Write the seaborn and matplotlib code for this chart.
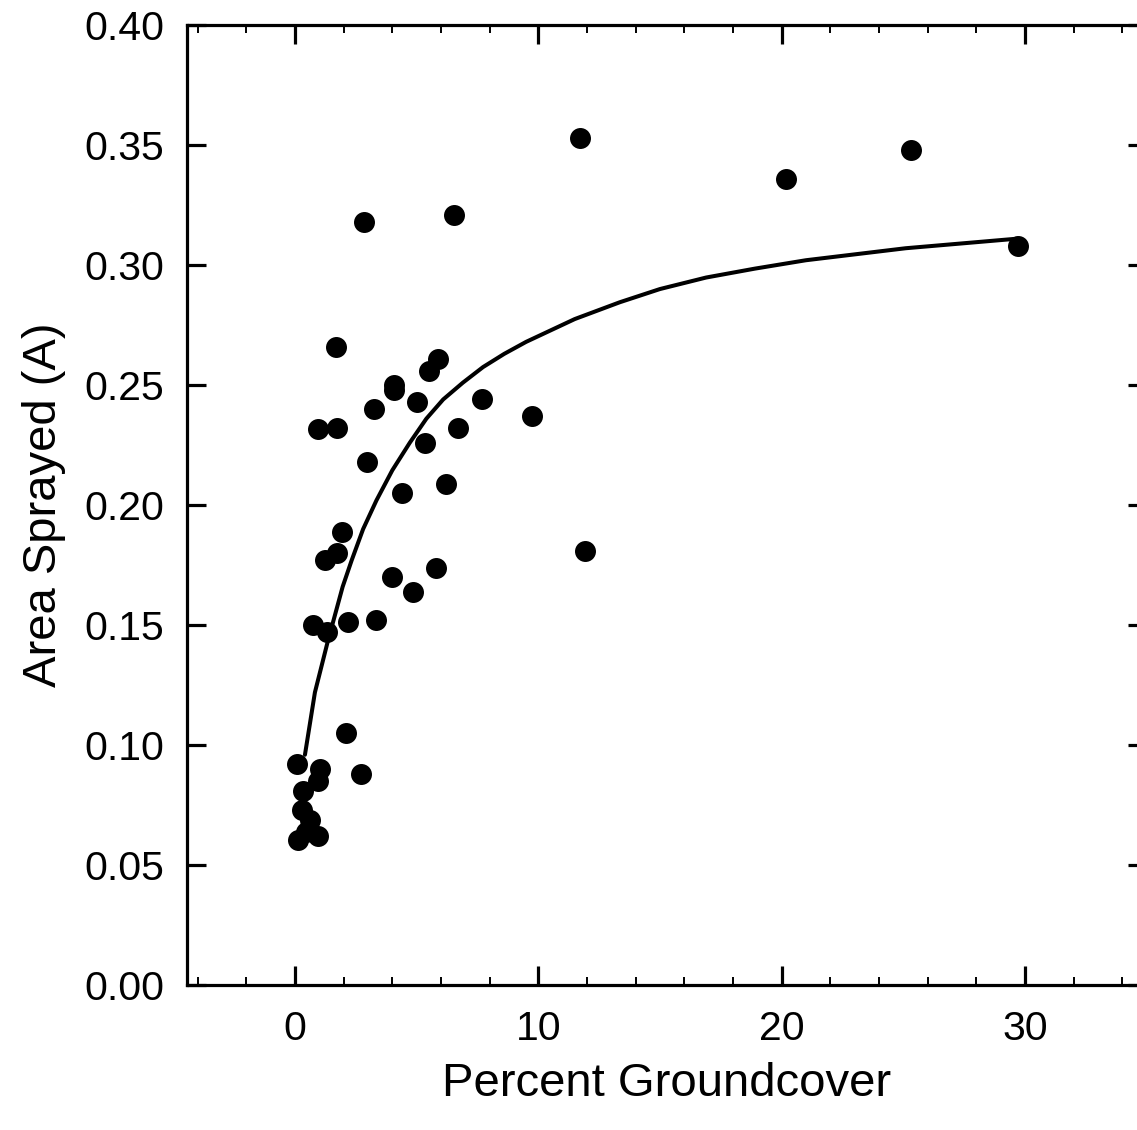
import numpy as np
import pandas as pd
import seaborn as sns
from matplotlib import pyplot as plt
from matplotlib.ticker import MultipleLocator

groundcover = [0.07, 0.14, 0.34, 0.27, 0.45, 0.62, 0.96, 1.03, 0.96,
               0.75, 0.93, 1.33, 1.23, 1.71, 1.67, 1.71, 1.92, 2.09, 2.19,
               2.71, 2.85, 2.97, 3.24, 3.33, 3.97, 4.08, 4.08, 4.41, 4.86,
               5.02, 5.34, 5.50, 5.78, 5.89, 6.19, 6.53, 6.71, 7.70, 9.76,
               11.70, 11.91, 20.19, 25.33, 29.70]
area_sprayed = [0.092, 0.0605, 0.081, 0.073, 0.064, 0.069, 0.062, 0.090, 0.085,
                0.150, 0.2315, 0.147, 0.177, 0.180, 0.266, 0.232, 0.189, 0.105, 0.1515,
                0.088, 0.318, 0.218, 0.240, 0.152, 0.170, 0.250, 0.248, 0.205, 0.164,
                0.243, 0.226, 0.256, 0.174, 0.261, 0.209, 0.321, 0.232, 0.244, 0.237,
                0.353, 0.181, 0.336, 0.348, 0.308]

# Fitted curve
fit_x = [0.41, 0.82, 1.33, 1.96, 2.33, 2.8, 3.35, 4.0, 4.72, 5.4, 6.09, 6.9,
         7.73, 8.6, 9.50, 11.50, 13.35, 15.0, 16.90, 18.9, 21.00, 25.10, 29.70]
fit_y = [0.096, 0.122, 0.1425, 0.166, 0.177, 0.190, 0.202, 0.2145, 0.226, 0.236,
         0.244, 0.251, 0.2575, 0.263, 0.268, 0.2775, 0.2845, 0.290, 0.2948, 0.2985,
         0.302, 0.307, 0.311]

x_ticks = [0, 10, 20, 30]
y_ticks = [0.00, 0.05, 0.10, 0.15, 0.20, 0.25, 0.30, 0.35, 0.40]

df_points = pd.DataFrame({'Groundcover': groundcover, 'Area': area_sprayed})
df_fit = pd.DataFrame({'Groundcover': fit_x, 'Area': fit_y})

sns.set_style('ticks')
plt.rcParams['font.family'] = ['Liberation Sans', 'DejaVu Sans']
plt.rcParams['text.color'] = 'black'
plt.rcParams['axes.labelcolor'] = 'black'
plt.rcParams['xtick.color'] = 'black'
plt.rcParams['ytick.color'] = 'black'

fig = plt.figure(figsize=(11.37, 11.30), dpi=100)
ax = fig.add_axes([0.1642, 0.1281, 1.0084 - 0.1642, 0.9779 - 0.1281])

sns.lineplot(data=df_fit, x='Groundcover', y='Area', color='black',
             linewidth=2.9, ax=ax)
sns.scatterplot(data=df_points, x='Groundcover', y='Area', color='black',
                s=228, linewidth=0, ax=ax, zorder=3)

ax.set_xlim(-4.45, 35)
ax.set_ylim(0, 0.40)
ax.set_xticks(x_ticks)
ax.set_yticks(y_ticks)
ax.set_yticklabels([f'{v:.2f}' for v in y_ticks])
ax.xaxis.set_minor_locator(MultipleLocator(2))

for side in ['left', 'right', 'top', 'bottom']:
    ax.spines[side].set_visible(True)
    ax.spines[side].set_linewidth(2.3)
    ax.spines[side].set_color('black')

ax.tick_params(axis='both', which='major', direction='in', length=14, width=2.3,
               top=True, right=True, labelsize=29.5, colors='black')
ax.tick_params(axis='x', which='minor', direction='in', length=5.5, width=1.4,
               top=True, bottom=True, colors='black')
ax.tick_params(axis='y', which='major', pad=16)
ax.tick_params(axis='x', which='major', pad=18)

ax.set_xlabel('Percent Groundcover', fontsize=34, labelpad=10)
ax.set_ylabel('Area Sprayed (A)', fontsize=34, labelpad=13)

plt.savefig('out.png', dpi=100)
plt.close()
